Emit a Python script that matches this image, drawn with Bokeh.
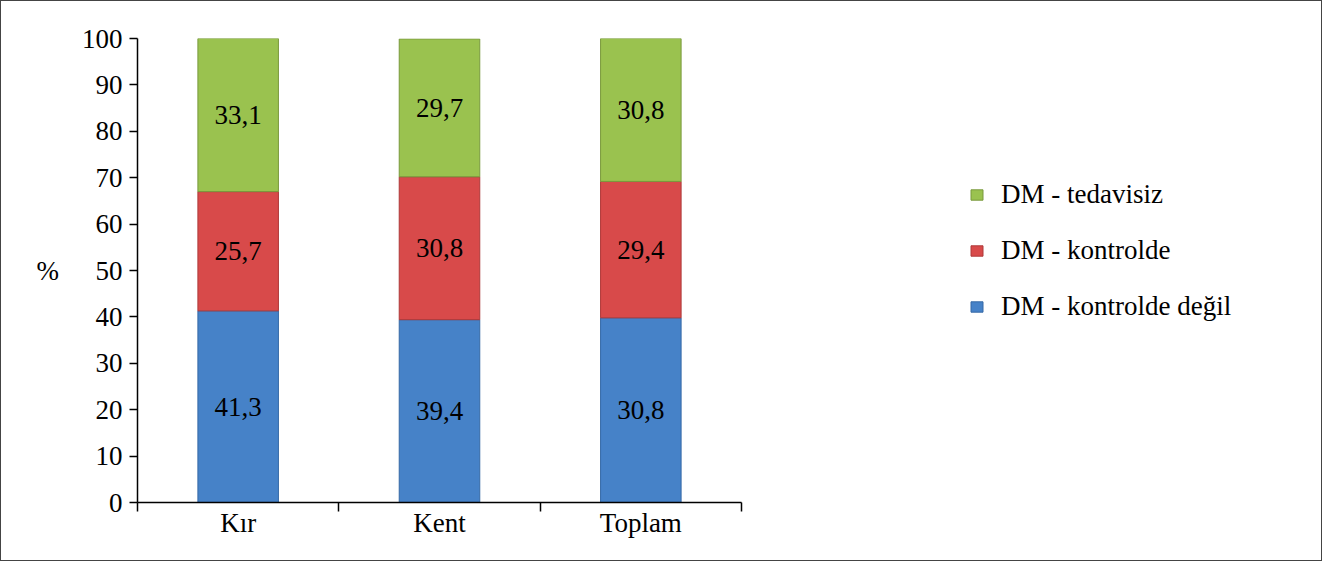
from bokeh.plotting import figure
from bokeh.models import ColumnDataSource, FixedTicker, Legend, LegendItem, Range1d
from bokeh.embed import file_html
from bokeh.resources import INLINE
from bokeh.core.properties import value

# ---- data ----
categories = ["Kır", "Kent", "Toplam"]
series_names = ["DM - kontrolde değil", "DM - kontrolde", "DM - tedavisiz"]
kontrolde_degil = [41.3, 39.4, 39.8]
kontrolde = [25.7, 30.8, 29.4]
tedavisiz = [33.1, 29.7, 30.8]
labels_kontrolde_degil = ["41,3", "39,4", "30,8"]
labels_kontrolde = ["25,7", "30,8", "29,4"]
labels_tedavisiz = ["33,1", "29,7", "30,8"]
y_ticks = [0, 10, 20, 30, 40, 50, 60, 70, 80, 90, 100]
y_label = "%"

# ---- style / layout constants ----
colors = ["#4682C8", "#D84A4A", "#9AC24F"]
edge_colors = ["#3569A6", "#AE3838", "#79993C"]
FONT = "Liberation Serif"
FS = "27px"
W, H = 1322, 561
LEFT, TOP, BOTTOM, RIGHT = 136, 37, 60, 0
FRAME_W = W - LEFT - RIGHT
AXIS_W = 604  # pixel length of the category axis

x_pos = [i + 0.5 for i in range(len(categories))]
boundaries = [float(i) for i in range(len(categories) + 1)]
x_end = len(categories) * FRAME_W / AXIS_W

src = ColumnDataSource(dict(x=x_pos, s0=kontrolde_degil, s1=kontrolde, s2=tedavisiz))

p = figure(width=W, height=H, output_backend="svg", toolbar_location=None,
           x_range=Range1d(0, x_end), y_range=Range1d(0, 100),
           min_border_left=LEFT, min_border_right=RIGHT, min_border_top=TOP, min_border_bottom=BOTTOM)
p.background_fill_color = "white"
p.border_fill_color = "white"
p.outline_line_color = None
p.grid.visible = False
p.styles = {"border": "1px solid #444"}

rs = p.vbar_stack(["s0", "s1", "s2"], x="x", width=0.4, source=src,
                  fill_color=colors, line_color=edge_colors, line_width=1)

# data labels (centered in each segment)
stack_vals = [kontrolde_degil, kontrolde, tedavisiz]
stack_labels = [labels_kontrolde_degil, labels_kontrolde, labels_tedavisiz]
bottoms = [0.0] * len(categories)
for vals, labs in zip(stack_vals, stack_labels):
    mids = [b + v / 2 for b, v in zip(bottoms, vals)]
    lsrc = ColumnDataSource(dict(x=x_pos, y=mids, t=labs))
    p.text(x="x", y="y", text="t", source=lsrc, text_align="center", text_baseline="middle",
           text_font=value(FONT), text_font_size=FS, text_color="black")
    bottoms = [b + v for b, v in zip(bottoms, vals)]

# y axis
yax = p.yaxis[0]
yax.ticker = FixedTicker(ticks=y_ticks)
yax.major_tick_out = 8
yax.major_tick_in = 0
yax.minor_tick_out = 0
yax.minor_tick_in = 0
yax.axis_line_width = 1.5
yax.major_tick_line_width = 1.5
yax.axis_line_color = "black"
yax.major_tick_line_color = "black"
yax.major_label_standoff = 7
yax.major_label_text_font = FONT
yax.major_label_text_font_size = FS
yax.major_label_text_color = "black"
yax.axis_label = y_label
yax.axis_label_text_font = FONT
yax.axis_label_text_font_size = FS
yax.axis_label_text_font_style = "normal"
yax.axis_label_text_color = "black"
yax.axis_label_standoff = 20
if "axis_label_orientation" in yax.properties():
    yax.axis_label_orientation = "horizontal"

# x axis: labels at centers, ticks at category boundaries
xax = p.xaxis[0]
xax.bounds = (0, len(categories))
xax.ticker = FixedTicker(ticks=x_pos, minor_ticks=boundaries)
xax.major_label_overrides = {x: c for x, c in zip(x_pos, categories)}
xax.major_tick_out = 0
xax.major_tick_in = 0
xax.minor_tick_out = 9
xax.minor_tick_in = 0
xax.minor_tick_line_color = "black"
xax.minor_tick_line_width = 1.5
xax.axis_line_width = 1.5
xax.axis_line_color = "black"
xax.major_label_standoff = -4
xax.major_label_text_font = FONT
xax.major_label_text_font_size = FS
xax.major_label_text_color = "black"

legend = Legend(items=[LegendItem(label=series_names[2], renderers=[rs[2]]),
                       LegendItem(label=series_names[1], renderers=[rs[1]]),
                       LegendItem(label=series_names[0], renderers=[rs[0]])],
                location=(832, 180), orientation="vertical",
                glyph_width=15, glyph_height=13, label_standoff=17, spacing=24,
                label_height=32, padding=0, margin=0,
                border_line_color=None, background_fill_alpha=0,
                label_text_font=FONT, label_text_font_size=FS, label_text_color="black")
p.add_layout(legend, "center")

open("out.html", "w").write(file_html(p, INLINE))
